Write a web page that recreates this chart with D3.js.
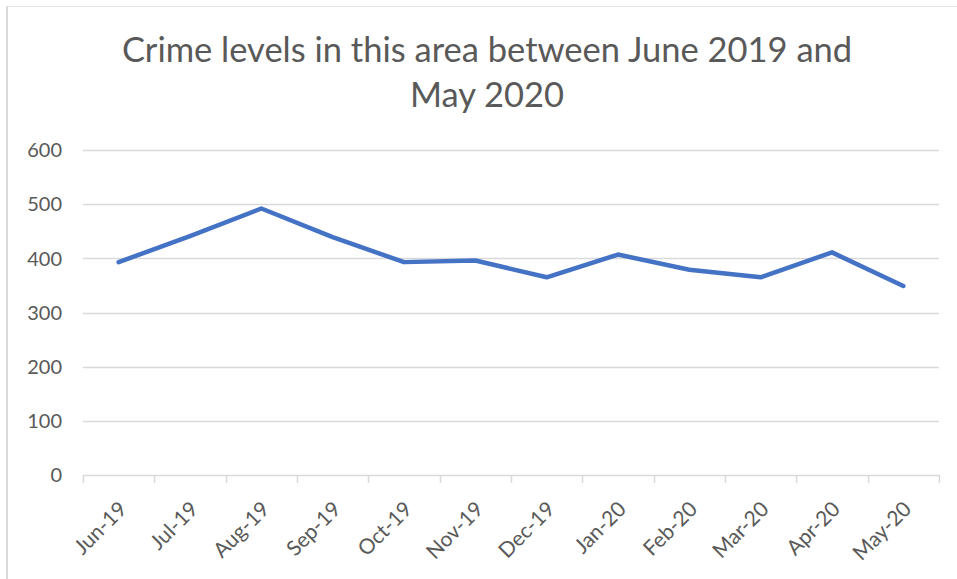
<!DOCTYPE html>
<html>
<head>
    <meta charset="utf-8">
    <title>Crime levels</title>
    <script src="https://d3js.org/d3.v7.min.js"></script>
    <style>
        body { margin: 0; background: #fff; }
        svg { display: block; font-family: Lato, "Open Sans", sans-serif; }
        .tick-label { fill: #595959; font-size: 20px; }
        .xlab { font-size: 21px; }
        .title { fill: #595959; font-size: 34.5px; }
    </style>
</head>
<body>
    <div id="chart"></div>
    <script>
        // Data
        const months = ["Jun-19", "Jul-19", "Aug-19", "Sep-19", "Oct-19", "Nov-19",
                        "Dec-19", "Jan-20", "Feb-20", "Mar-20", "Apr-20", "May-20"];
        const crimes = [393, 441, 492, 439, 393, 396, 365, 407, 379, 365, 411, 349];
        const yTicks = [0, 100, 200, 300, 400, 500, 600];
        const titleLines = ["Crime levels in this area between June 2019 and", "May 2020"];

        const W = 957, H = 579;
        const margin = {top: 150, right: 18, bottom: 104, left: 83};
        const width = W - margin.left - margin.right;
        const height = H - margin.top - margin.bottom;

        const svg = d3.select("#chart").append("svg")
            .attr("width", W)
            .attr("height", H);

        // chart frame (only left and top edges are visible in the crop)
        svg.append("line").attr("x1", 7).attr("x2", 7).attr("y1", 6).attr("y2", H)
            .attr("stroke", "#d9d9d9").attr("stroke-width", 2);
        svg.append("line").attr("x1", 6).attr("x2", W).attr("y1", 6.5).attr("y2", 6.5)
            .attr("stroke", "#e3e3e3").attr("stroke-width", 1);

        svg.selectAll(".title")
            .data(titleLines)
            .enter()
            .append("text")
            .attr("class", "title")
            .attr("x", 487)
            .attr("y", (d, i) => 62 + i * 45)
            .attr("text-anchor", "middle")
            .text(d => d);

        const g = svg.append("g")
            .attr("transform", `translate(${margin.left},${margin.top})`);

        const x = d3.scaleBand().domain(months).range([0, width]);
        const y = d3.scaleLinear().domain([0, 600]).range([height, 0]);

        // gridlines
        g.selectAll(".grid")
            .data(yTicks.filter(t => t > 0))
            .enter()
            .append("line")
            .attr("x1", 0).attr("x2", width)
            .attr("y1", d => Math.round(y(d)) + 0.5)
            .attr("y2", d => Math.round(y(d)) + 0.5)
            .attr("stroke", "#d9d9d9")
            .attr("stroke-width", 1.5);

        // y labels
        g.selectAll(".ylab")
            .data(yTicks)
            .enter()
            .append("text")
            .attr("class", "tick-label")
            .attr("x", -21)
            .attr("y", d => y(d))
            .attr("dy", "0.36em")
            .attr("text-anchor", "end")
            .text(d => d);

        // x axis
        const xAxis = g.append("g")
            .attr("transform", `translate(0,${height})`);
        xAxis.append("line")
            .attr("x1", 0).attr("x2", width)
            .attr("y1", 0.5).attr("y2", 0.5)
            .attr("stroke", "#d9d9d9").attr("stroke-width", 1.5);
        const boundaries = months.map(m => x(m)).concat([width]);
        xAxis.selectAll(".xtick")
            .data(boundaries)
            .enter()
            .append("line")
            .attr("x1", d => Math.round(d) + 0.5)
            .attr("x2", d => Math.round(d) + 0.5)
            .attr("y1", 0).attr("y2", 8)
            .attr("stroke", "#d9d9d9").attr("stroke-width", 1.5);
        xAxis.selectAll(".xlab")
            .data(months)
            .enter()
            .append("text")
            .attr("class", "tick-label xlab")
            .attr("text-anchor", "end")
            .attr("transform", d => `translate(${x(d) + x.bandwidth() / 2 - 1},${25}) rotate(-45)`)
            .attr("dy", "0.7em")
            .text(d => d);

        // the line
        const line = d3.line()
            .x((d, i) => x(months[i]) + x.bandwidth() / 2)
            .y(d => y(d));
        g.append("path")
            .datum(crimes)
            .attr("d", line)
            .attr("fill", "none")
            .attr("stroke", "#4472c4")
            .attr("stroke-width", 4.5)
            .attr("stroke-linejoin", "round")
            .attr("stroke-linecap", "round");
    </script>
</body>
</html>
